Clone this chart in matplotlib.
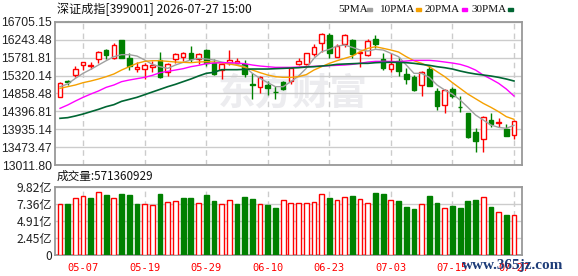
import matplotlib.pyplot as plt
from matplotlib.patches import Rectangle

# 深证成指 日K (60 个交易日)
opens = [14777, 15180, 15342, 15582, 15565, 15737, 15977, 15763, 16234, 15771,
         15480, 15497, 15531, 15720, 15420, 15745, 15805, 15900, 15745, 15977,
         15651, 15462, 15651, 15651, 15625, 15094, 15017, 15068, 14905, 15154,
         15180, 15608, 15608, 15865, 16148, 16362, 15805, 16131, 16234, 15891,
         15848, 16259, 15745, 15497, 15702, 15360, 15291, 15068, 15480, 14922,
         14554, 14965, 14520, 14348, 13860, 13680, 14177, 14100, 13937, 13783]
highs = [15154, 15205, 15565, 15668, 15668, 15960, 15994, 16148, 16234, 15891,
         15677, 15651, 15685, 15925, 15651, 15908, 15934, 16079, 15908, 15994,
         15737, 15651, 15977, 15763, 15720, 15377, 15308, 15188, 15051, 15180,
         15548, 15763, 15908, 16131, 16422, 16405, 16131, 16388, 16251, 15960,
         16251, 16362, 15891, 15891, 15788, 15522, 15334, 15445, 15591, 15008,
         14965, 15034, 14794, 14365, 13963, 14280, 14348, 14220, 14074, 14177]
lows = [14777, 15077, 15291, 15462, 15497, 15651, 15737, 15754, 15780, 15462,
        15411, 15240, 15420, 15265, 15317, 15651, 15702, 15677, 15608, 15565,
        15334, 15240, 15591, 15582, 15274, 14708, 14880, 14820, 14725, 14948,
        15102, 15591, 15591, 15822, 15934, 15763, 15788, 16062, 15763, 15531,
        15822, 16020, 15462, 15420, 15308, 15102, 14922, 14794, 15060, 14434,
        14365, 14751, 14391, 13722, 13345, 13363, 13988, 14005, 13774, 13697]
closes = [15120, 15145, 15480, 15659, 15600, 15917, 15857, 16105, 15780, 15574,
          15531, 15600, 15591, 15274, 15617, 15865, 15900, 15745, 15865, 15651,
          15360, 15608, 15720, 15694, 15351, 15077, 15274, 14991, 14888, 14974,
          15505, 15694, 15891, 16045, 16388, 15891, 16079, 16362, 15865, 15925,
          16217, 16131, 15522, 15617, 15445, 15231, 14948, 15402, 15060, 14537,
          14948, 14794, 14503, 13731, 13637, 14263, 14066, 14126, 13774, 14143]

ma5 = [15034, 15103, 15248, 15377, 15480, 15591, 15702, 15805, 15857, 15857,
       15822, 15720, 15608, 15548, 15505, 15591, 15660, 15720, 15762, 15745,
       15720, 15668, 15634, 15608, 15548, 15377, 15248, 15137, 15034, 15034,
       15163, 15308, 15505, 15762, 15934, 15994, 16080, 16105, 16045, 15977,
       15951, 15994, 15977, 15891, 15805, 15591, 15377, 15377, 15274, 15077,
       14948, 14845, 14691, 14503, 14306, 14177, 14048, 13988, 13963, 14040]
ma10 = [14991, 15034, 15077, 15137, 15180, 15231, 15291, 15360, 15462, 15548,
        15634, 15685, 15702, 15702, 15685, 15668, 15660, 15651, 15668, 15677,
        15668, 15642, 15617, 15582, 15531, 15462, 15394, 15334, 15291, 15274,
        15274, 15291, 15343, 15462, 15548, 15634, 15702, 15762, 15822, 15934,
        16020, 16062, 16020, 15977, 15925, 15805, 15702, 15634, 15548, 15420,
        15291, 15137, 14991, 14845, 14725, 14605, 14503, 14391, 14263, 14194]
ma20 = [14477, 14563, 14665, 14760, 14845, 14923, 15017, 15077, 15163, 15205,
        15240, 15274, 15325, 15394, 15428, 15462, 15497, 15548, 15582, 15625,
        15642, 15651, 15651, 15642, 15625, 15591, 15565, 15548, 15531, 15531,
        15531, 15540, 15548, 15557, 15565, 15574, 15582, 15591, 15608, 15634,
        15668, 15685, 15685, 15685, 15677, 15694, 15711, 15711, 15711, 15694,
        15668, 15642, 15608, 15548, 15462, 15334, 15231, 15120, 14974, 14794]
ma30 = [14220, 14237, 14280, 14331, 14391, 14451, 14520, 14571, 14657, 14708,
        14760, 14828, 14897, 14965, 15034, 15094, 15163, 15231, 15308, 15377,
        15403, 15471, 15471, 15471, 15480, 15488, 15488, 15488, 15497, 15505,
        15514, 15522, 15540, 15548, 15565, 15582, 15608, 15617, 15625, 15634,
        15634, 15651, 15660, 15660, 15660, 15651, 15634, 15608, 15582, 15548,
        15522, 15488, 15437, 15394, 15360, 15334, 15308, 15274, 15231, 15180]

# 成交量 (亿), R=红 G=绿
volumes = [7.42, 7.42, 8.29, 8.58, 8.29, 9.16, 8.63, 8.29, 8.87, 8.63,
           7.42, 7.42, 7.28, 8.87, 7.71, 7.86, 8.29, 8.29, 7.57, 8.63,
           7.76, 7.42, 8.00, 7.33, 8.34, 8.05, 7.33, 7.18, 6.75, 8.00,
           7.57, 7.57, 7.57, 7.71, 8.87, 8.19, 8.00, 8.44, 8.48, 8.15,
           7.57, 8.92, 8.77, 8.00, 7.76, 6.89, 6.60, 7.33, 8.48, 7.47,
           6.84, 7.04, 6.75, 7.76, 7.90, 8.44, 6.89, 6.27, 5.74, 5.71]
vol_colors = "RGRRGRGRGGGRRGRRGGR" + "GGRRGGGRGGRRRRRRGRRGRRGGRG" + "GGRGGRGGGGRGRGR"

date_pos = [3, 11, 19, 27, 35, 43, 51, 59]
date_labels = ['05-07', '05-19', '05-29', '06-10', '06-23', '07-03', '07-15', '07-27']
price_ticks = [13011.80, 13473.47, 13935.14, 14396.81, 14858.48,
               15320.14, 15781.81, 16243.48, 16705.15]
vol_ticks = [0, 2.45, 4.91, 7.36, 9.82]
vol_tick_labels = ['0', '2.45亿', '4.91亿', '7.36亿', '9.82亿']

RED = '#ff0000'
GREEN = '#008000'
W, H = 578, 276
CJK = ['Noto Sans CJK SC', 'DejaVu Sans']


def fx(px):
    return px / W


def fy(py):
    return 1 - py / H


fig = plt.figure(figsize=(W / 100, H / 100), dpi=100)
fig.patch.set_facecolor('white')

ax = fig.add_axes([fx(55), fy(165.3), fx(522 - 55), (165.3 - 21.7) / H])
axv = fig.add_axes([fx(55), fy(255), fx(522 - 55), (255 - 187) / H])

n = len(closes)
for a in (ax, axv):
    a.set_xlim(-0.65, n + 0.04)
    for s in a.spines.values():
        s.set_color('#999999')
        s.set_linewidth(1.3)
    a.tick_params(length=0, pad=2)
    a.set_xticks(date_pos)
    a.grid(axis='x', color='#cccccc', linestyle=(0, (4, 3)), linewidth=1)
    a.grid(axis='y', color='#cccccc', linestyle='-', linewidth=1)
    a.set_axisbelow(True)

# 水印
ax.text(0.51, 0.5, '东方财富', transform=ax.transAxes, ha='center', va='center',
        fontsize=27, fontweight='bold', color='#ececef', family=CJK, zorder=0)

# K线
for i in range(n):
    o, h, l, c = opens[i], highs[i], lows[i], closes[i]
    up = c >= o
    col = RED if up else GREEN
    ax.vlines(i, l, h, color=col, linewidth=1, zorder=2)
    body = max(abs(c - o), 6)
    ax.bar(i, body, bottom=min(o, c), width=0.6,
           facecolor='white' if up else GREEN, edgecolor=col,
           linewidth=1, zorder=3)

x = list(range(n))
ax.plot(x, ma5, color='#a0a0a0', linewidth=1, zorder=4)
ax.plot(x, ma10, color='#f5a000', linewidth=1, zorder=4)
ax.plot(x, ma20, color='#ff00ff', linewidth=1, zorder=4)
ax.plot(x, ma30, color='#006633', linewidth=1.2, zorder=4)

ax.set_ylim(price_ticks[0], price_ticks[-1])
ax.set_yticks(price_ticks)
ax.set_yticklabels([f'{v:.2f}' for v in price_ticks], fontsize=8.7,
                   color='#222222', family='Liberation Sans')
ax.set_xticklabels([])

# 成交量
for i in range(n):
    up = vol_colors[i] == 'R'
    axv.bar(i, volumes[i], width=0.62,
            facecolor='white' if up else GREEN,
            edgecolor=RED if up else GREEN, linewidth=1, zorder=3)
axv.set_ylim(0, 9.82)
axv.set_yticks(vol_ticks)
axv.set_yticklabels(vol_tick_labels, fontsize=8.7, color='#222222', family=CJK)
axv.set_xticklabels(date_labels, fontsize=7.5, color=RED, family='DejaVu Sans Mono')
axv.tick_params(axis='x', pad=6)

# 标题与图例
fig.text(fx(57), fy(9), '深证成指[399001] 2026-07-27 15:00', fontsize=8.7,
         va='center', ha='left', family=CJK, color='#111111')
fig.text(fx(57), fy(176.5), '成交量:571360929', fontsize=8.4,
         va='center', ha='left', family=CJK, color='#111111')

legend = [('5PMA', '#a0a0a0', 338, 367), ('10PMA', '#f5a000', 380, 416),
          ('20PMA', '#ff00ff', 425, 462), ('30PMA', '#006633', 472, 508)]
for label, col, tx, sx in legend:
    fig.text(fx(tx), fy(9), label, fontsize=8, va='center', ha='left',
             family='Liberation Serif', color='#111111')
    fig.patches.append(Rectangle((fx(sx), fy(11)), fx(5), 3 / H, color=col,
                                 transform=fig.transFigure, figure=fig))

fig.text(fx(513), fy(265), 'www.365jz.com', fontsize=11, fontweight='bold',
         va='center', ha='center', family='Liberation Serif', color='#1d3c78')

plt.savefig('out.png', dpi=100)
